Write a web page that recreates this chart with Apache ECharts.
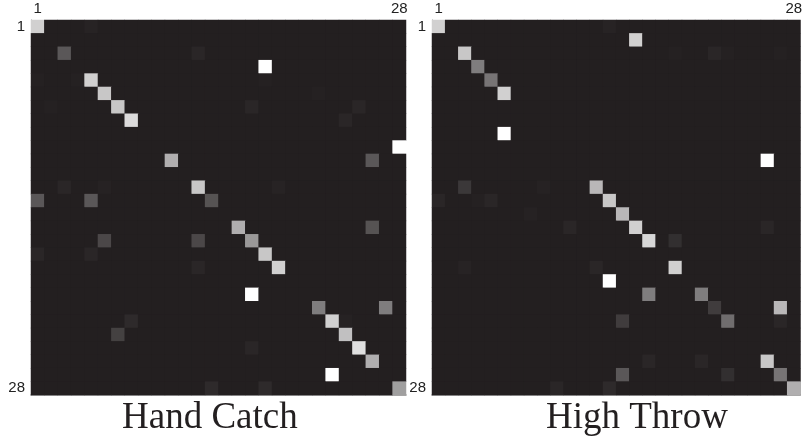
<!DOCTYPE html>
<html>
<head>
<meta charset="utf-8">
<script src="https://cdn.jsdelivr.net/npm/echarts@6/dist/echarts.min.js"></script>
<style>html,body{margin:0;padding:0;background:#fff}#c{width:805px;height:446px}</style>
</head>
<body>
<div id="c"></div>
<script>
// 28 categories on both axes
var categories = [];
for (var i = 1; i <= 28; i++) categories.push(String(i));

var tickLabels = ['1', '28'];
var titles = ['Hand Catch', 'High Throw'];

// non-zero cells: [column, row, value]; all other cells are 0
var handCatchCells = [
  [0,0,0.79],[4,0,0.02],[2,2,0.25],[12,2,0.03],[17,3,1.0],[0,4,0.01],[3,4,0.01],
  [4,4,0.79],[17,4,0.01],[5,5,0.75],[21,5,0.01],[1,6,0.01],[6,6,0.75],[16,6,0.03],
  [24,6,0.03],[7,7,0.84],[23,7,0.03],[27,9,1.0],[10,10,0.64],[25,10,0.25],
  [2,12,0.03],[5,12,0.015],[12,12,0.75],[18,12,0.02],[0,13,0.25],[4,13,0.25],
  [13,13,0.23],[15,15,0.64],[25,15,0.23],[5,16,0.18],[12,16,0.18],[16,16,0.54],
  [0,17,0.03],[4,17,0.03],[17,17,0.75],[12,18,0.03],[18,18,0.79],[16,20,1.0],
  [21,21,0.42],[26,21,0.42],[7,22,0.05],[22,22,0.79],[23,22,0.015],[6,23,0.15],
  [23,23,0.72],[16,24,0.03],[24,24,0.86],[25,25,0.64],[22,26,1.0],[13,27,0.05],
  [17,27,0.05],[27,27,0.57]
];

var highThrowCells = [
  [0,0,0.79],[13,0,0.02],[15,1,0.79],[2,2,0.75],[18,2,0.01],[21,2,0.03],[22,2,0.01],
  [26,2,0.01],[3,3,0.42],[4,4,0.38],[5,5,0.79],[5,8,1.0],[25,10,1.0],[2,12,0.11],
  [8,12,0.015],[12,12,0.68],[0,13,0.03],[3,13,0.01],[4,13,0.03],[13,13,0.75],
  [7,14,0.015],[14,14,0.68],[10,15,0.03],[15,15,0.79],[25,15,0.03],[16,16,0.82],
  [18,16,0.07],[2,18,0.02],[12,18,0.03],[18,18,0.79],[13,19,1.0],[16,20,0.42],
  [20,20,0.42],[21,21,0.13],[26,21,0.68],[14,22,0.13],[22,22,0.35],[26,22,0.03],
  [16,25,0.03],[20,25,0.03],[25,25,0.75],[14,26,0.25],[22,26,0.07],[26,26,0.38],
  [9,27,0.03],[13,27,0.05],[27,27,0.64]
];

function fullMatrix(cells) {
  var m = {};
  cells.forEach(function (c) { m[c[0] + ',' + c[1]] = c[2]; });
  var out = [];
  for (var y = 0; y < categories.length; y++)
    for (var x = 0; x < categories.length; x++) {
      var v = m[x + ',' + y];
      out.push([x, y, v === undefined ? 0 : v]);
    }
  return out;
}

var font = 'Liberation Sans, Arial, sans-serif';
function showEnds(i) { return i === 0 || i === categories.length - 1; }
function labelFmt(v) { return (v === tickLabels[0] || v === tickLabels[1]) ? v : ''; }

var grids = [
  { left: 31, top: 20, width: 375, height: 375, show: true, backgroundColor: '#231f20', borderWidth: 0 },
  { left: 432, top: 20, width: 375, height: 375, show: true, backgroundColor: '#231f20', borderWidth: 0 }
];

var xAxes = [], yAxes = [];
grids.forEach(function (g, gi) {
  xAxes.push({
    type: 'category', gridIndex: gi, data: categories, position: 'top',
    axisLine: { show: false },
    axisTick: { show: true, inside: true, length: 4, alignWithLabel: true, interval: showEnds, lineStyle: { color: '#222' } },
    axisLabel: { interval: showEnds, formatter: labelFmt, fontSize: 15, color: '#222', fontFamily: font, margin: 4 },
    splitLine: { show: false }
  });
  xAxes.push({
    type: 'category', gridIndex: gi, data: categories, position: 'bottom',
    axisLine: { show: true, lineStyle: { color: '#8a8a8a', width: 1.5 } },
    axisTick: { show: false }, axisLabel: { show: false }, splitLine: { show: false }
  });
  yAxes.push({
    type: 'category', gridIndex: gi, data: categories, inverse: true,
    axisLine: { show: true, lineStyle: { color: '#8a8a8a', width: 1 } },
    axisTick: { show: true, inside: true, length: 4, alignWithLabel: true, interval: showEnds, lineStyle: { color: '#222' } },
    axisLabel: { interval: showEnds, formatter: labelFmt, fontSize: 15, color: '#222', fontFamily: font, margin: 6 },
    splitLine: { show: false }
  });
});

var chart = echarts.init(document.getElementById('c'), null, { renderer: 'canvas' });
chart.setOption({
  animation: false,
  backgroundColor: '#ffffff',
  grid: grids,
  xAxis: xAxes,
  yAxis: yAxes,
  visualMap: {
    show: false, min: 0, max: 1, seriesIndex: [0, 1], dimension: 2,
    inRange: { color: ['#231f20', '#ffffff'] }
  },
  series: [
    { type: 'heatmap', xAxisIndex: 0, yAxisIndex: 0, data: fullMatrix(handCatchCells), emphasis: { disabled: true }, itemStyle: { borderWidth: 0 } },
    { type: 'heatmap', xAxisIndex: 2, yAxisIndex: 1, data: fullMatrix(highThrowCells), emphasis: { disabled: true }, itemStyle: { borderWidth: 0 } }
  ],
  graphic: [
    { type: 'text', left: 122, top: 400, style: { text: titles[0], font: '37px "Liberation Serif", "Times New Roman", serif', fill: '#231f20' } },
    { type: 'text', left: 546, top: 400, style: { text: titles[1], font: '37px "Liberation Serif", "Times New Roman", serif', fill: '#231f20' } }
  ]
});
</script>
</body>
</html>
